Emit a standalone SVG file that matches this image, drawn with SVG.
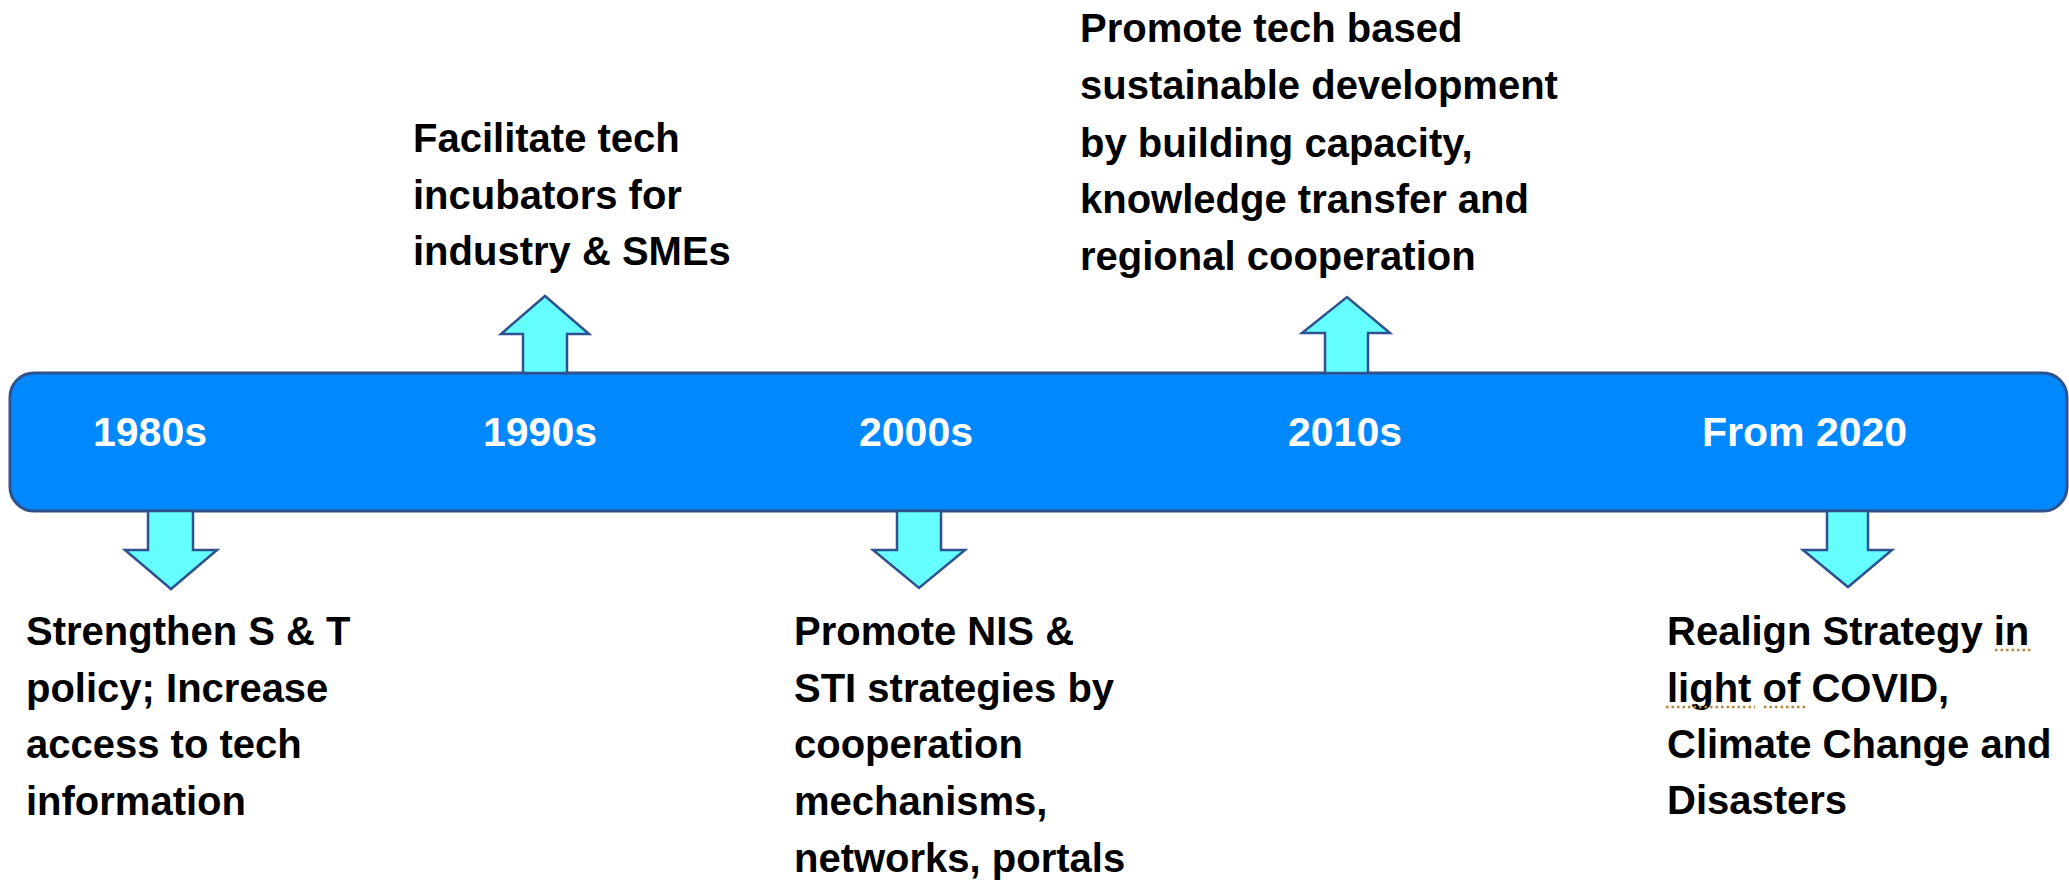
<svg xmlns="http://www.w3.org/2000/svg" width="2069" height="884" viewBox="0 0 2069 884">
<style>
.bar{fill:#0089FF;stroke:#2F528F;stroke-width:3}
.arr{fill:#66FFFF;stroke:#2F528F;stroke-width:2.5;stroke-linejoin:miter}
.yr{font-family:"Liberation Sans",Arial,sans-serif;font-weight:bold;font-size:41px;fill:#FFFFFF}
.tx{font-family:"Liberation Sans",Arial,sans-serif;font-weight:bold;font-size:40px;fill:#000000}
.sq{stroke:#B8863B;stroke-width:2.5;stroke-dasharray:2.5 3;fill:none}
</style>
<rect width="2069" height="884" fill="#FFFFFF"/>
<g id="timeline">
<rect class="bar" x="10" y="373" width="2057" height="138" rx="24" ry="24"/>
<text class="yr" x="93" y="446">1980s</text>
<text class="yr" x="483" y="446">1990s</text>
<text class="yr" x="859" y="446">2000s</text>
<text class="yr" x="1288" y="446">2010s</text>
<text class="yr" x="1702" y="446">From 2020</text>
</g>
<g id="connectors">
<polygon class="arr" points="148,511 193,511 193,550 217,550 171,589 125,550 148,550"/>
<polygon class="arr" points="523,373 567,373 567,334 589,334 545,296 501,334 523,334"/>
<polygon class="arr" points="897,511 941,511 941,550 965,550 919,588 873,550 897,550"/>
<polygon class="arr" points="1325,373 1368,373 1368,333 1390,333 1347,297 1302,333 1325,333"/>
<polygon class="arr" points="1827,511 1868,511 1868,550 1892,550 1848,587 1803,550 1827,550"/>
</g>
<g id="node-1980s">
<text class="tx" x="26" y="645">Strengthen S &amp; T</text>
<text class="tx" x="26" y="702">policy; Increase</text>
<text class="tx" x="26" y="758">access to tech</text>
<text class="tx" x="26" y="815">information</text>
</g>
<g id="node-1990s">
<text class="tx" x="413" y="152">Facilitate tech</text>
<text class="tx" x="413" y="209">incubators for</text>
<text class="tx" x="413" y="265">industry &amp; SMEs</text>
</g>
<g id="node-2000s">
<text class="tx" x="794" y="645">Promote NIS &amp;</text>
<text class="tx" x="794" y="702">STI strategies by</text>
<text class="tx" x="794" y="758">cooperation</text>
<text class="tx" x="794" y="815">mechanisms,</text>
<text class="tx" x="794" y="872">networks, portals</text>
</g>
<g id="node-2010s">
<text class="tx" x="1080" y="42">Promote tech based</text>
<text class="tx" x="1080" y="99">sustainable development</text>
<text class="tx" x="1080" y="157">by building capacity,</text>
<text class="tx" x="1080" y="213">knowledge transfer and</text>
<text class="tx" x="1080" y="270">regional cooperation</text>
</g>
<g id="node-2020">
<text class="tx" x="1667" y="645">Realign Strategy in</text>
<text class="tx" x="1667" y="702">light of COVID,</text>
<text class="tx" x="1667" y="758">Climate Change and</text>
<text class="tx" x="1667" y="814">Disasters</text>
<line class="sq" x1="1995" y1="650" x2="2032" y2="650"/>
<line class="sq" x1="1666" y1="707" x2="1755" y2="707"/>
<line class="sq" x1="1764" y1="707" x2="1805" y2="707"/>
</g>
</svg>
